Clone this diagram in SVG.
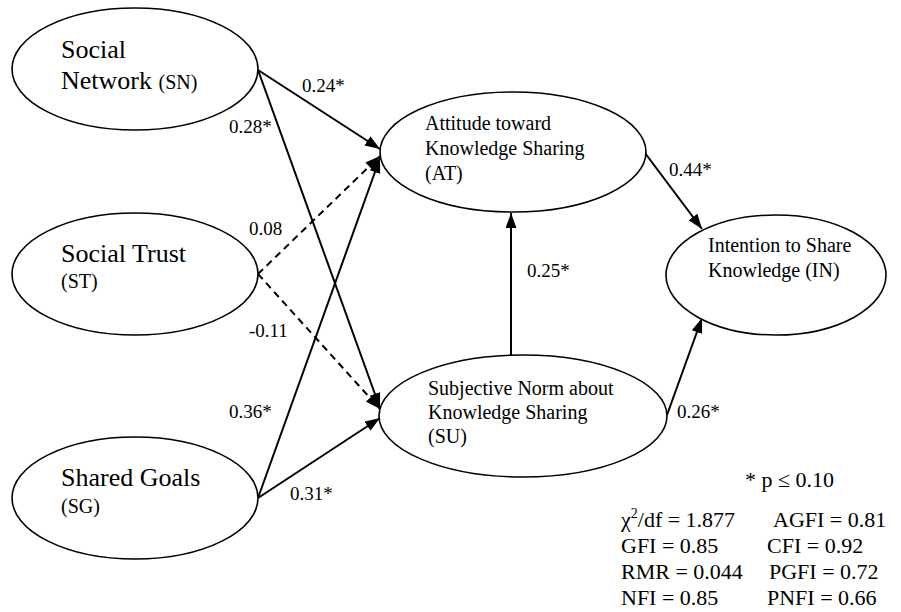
<svg xmlns="http://www.w3.org/2000/svg" width="901" height="612" viewBox="0 0 901 612" font-family="'Liberation Serif', 'Times New Roman', Times, serif">
<style>
.node ellipse{fill:#fff;stroke:#000;stroke-width:1.6}
text{font-family:'Liberation Serif','Times New Roman',Times,serif;fill:#000}
.big{font-size:26px}
.mid{font-size:20px}
.lbl{font-size:19px}
.stat{font-size:22px}
.edge{stroke:#000;stroke-width:2;fill:none;marker-end:url(#ah)}
.dash{stroke-dasharray:7 5}
</style>
<defs>
<marker id="ah" markerUnits="userSpaceOnUse" markerWidth="16" markerHeight="12" refX="15" refY="5.5" orient="auto">
<path d="M0,0 L15,5.5 L0,11 z" fill="#000"/>
</marker>
</defs>
<rect width="901" height="612" fill="#fff"/>
<g id="connectors">
<line class="edge" x1="258" y1="70" x2="380" y2="149"/>
<line class="edge" x1="258" y1="70" x2="380" y2="408"/>
<line class="edge dash" x1="258" y1="274" x2="380" y2="156"/>
<line class="edge dash" x1="258" y1="274" x2="380" y2="409"/>
<line class="edge" x1="258" y1="498" x2="380" y2="158"/>
<line class="edge" x1="258" y1="498" x2="380" y2="418"/>
<line class="edge" x1="511" y1="355" x2="511" y2="213"/>
<line class="edge" x1="645" y1="153" x2="702" y2="229"/>
<line class="edge" x1="667" y1="415" x2="702" y2="318"/>
</g>
<g id="edge-labels" class="lbl">
<text x="302" y="92">0.24*</text>
<text x="229" y="133">0.28*</text>
<text x="249" y="235">0.08</text>
<text x="249" y="337">-0.11</text>
<text x="229" y="418">0.36*</text>
<text x="290" y="500">0.31*</text>
<text x="527" y="277">0.25*</text>
<text x="669" y="176">0.44*</text>
<text x="677" y="418">0.26*</text>
</g>
<g id="SN" class="node">
<ellipse cx="135" cy="69" rx="123" ry="61"/>
<text class="big" x="61" y="58">Social</text>
<text class="big" x="61" y="89">Network <tspan font-size="20">(SN)</tspan></text>
</g>
<g id="ST" class="node">
<ellipse cx="135" cy="274" rx="123" ry="61"/>
<text class="big" x="61" y="262">Social Trust</text>
<text class="mid" x="61" y="288">(ST)</text>
</g>
<g id="SG" class="node">
<ellipse cx="135" cy="498" rx="123" ry="61"/>
<text class="big" x="61" y="486">Shared Goals</text>
<text class="mid" x="61" y="513">(SG)</text>
</g>
<g id="AT" class="node">
<ellipse cx="513" cy="152" rx="133" ry="60"/>
<text class="mid" x="425" y="130">Attitude toward</text>
<text class="mid" x="425" y="155">Knowledge Sharing</text>
<text class="mid" x="425" y="180">(AT)</text>
</g>
<g id="SU" class="node">
<ellipse cx="523" cy="416" rx="144" ry="61"/>
<text class="mid" x="428" y="395">Subjective Norm about</text>
<text class="mid" x="428" y="419">Knowledge Sharing</text>
<text class="mid" x="428" y="443">(SU)</text>
</g>
<g id="IN" class="node">
<ellipse cx="776" cy="275" rx="110" ry="60"/>
<text class="mid" x="708" y="252">Intention to Share</text>
<text class="mid" x="708" y="277">Knowledge (IN)</text>
</g>
<g id="stats" class="stat">
<text x="745" y="487">* p ≤ 0.10</text>
<text x="621" y="527">χ<tspan font-size="14" dy="-9">2</tspan><tspan dy="9">/df = 1.877</tspan></text>
<text x="773" y="527">AGFI = 0.81</text>
<text x="621" y="553">GFI = 0.85</text>
<text x="767" y="553">CFI = 0.92</text>
<text x="621" y="579">RMR = 0.044</text>
<text x="769" y="579">PGFI = 0.72</text>
<text x="621" y="605">NFI = 0.85</text>
<text x="767" y="605">PNFI = 0.66</text>
</g>
</svg>
